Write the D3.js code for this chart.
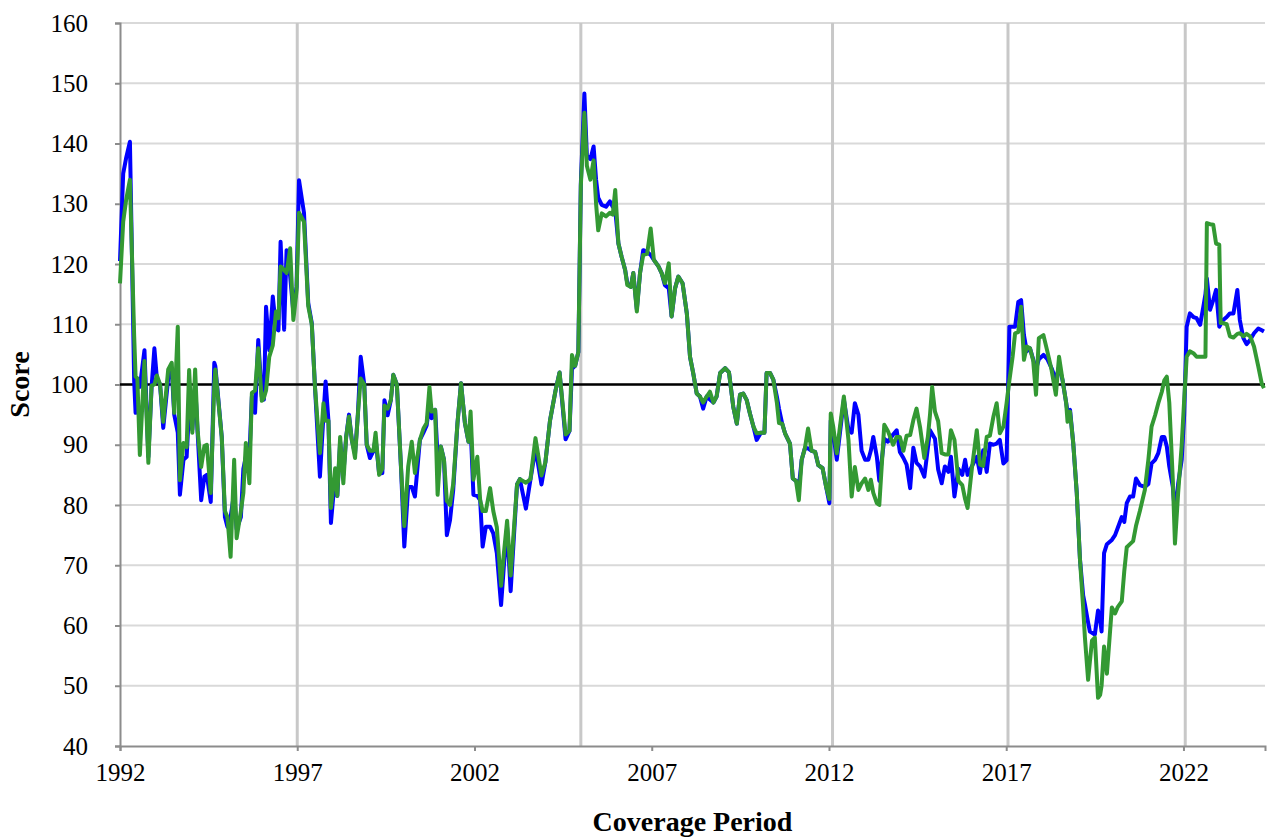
<!DOCTYPE html>
<html>
<head>
<meta charset="utf-8">
<script src="https://cdnjs.cloudflare.com/ajax/libs/d3/7.8.5/d3.min.js"></script>
<style>
  body { margin: 0; background: #fff; }
  svg text { font-family: "Liberation Serif", "Times New Roman", serif; fill: #000; }
</style>
</head>
<body>
<div id="chart"></div>
<script>
var width = 1272,
    height = 838;

var margin = {top: 23, right: 7, bottom: 92, left: 120};

// coverage period as decimal years
var years = [
  1992.00,1992.09,1992.17,1992.28,1992.40,1992.44,1992.49,1992.56,1992.69,1992.80,
  1992.89,1992.97,1993.04,1993.13,1993.22,1993.36,1993.46,1993.53,1993.63,1993.69,
  1993.79,1993.88,1993.95,1994.04,1994.12,1994.19,1994.29,1994.38,1994.45,1994.56,
  1994.66,1994.69,1994.87,1994.96,1995.03,1995.12,1995.22,1995.29,1995.41,1995.48,
  1995.55,1995.65,1995.72,1995.81,1995.90,1996.00,1996.06,1996.12,1996.21,1996.31,
  1996.40,1996.47,1996.53,1996.63,1996.70,1996.80,1996.89,1996.98,1997.05,1997.19,
  1997.31,1997.41,1997.50,1997.64,1997.74,1997.80,1997.88,1997.95,1998.07,1998.13,
  1998.21,1998.30,1998.38,1998.46,1998.54,1998.63,1998.71,1998.79,1998.89,1998.96,
  1999.05,1999.15,1999.21,1999.31,1999.40,1999.46,1999.55,1999.64,1999.71,1999.81,
  1999.93,2000.02,2000.13,2000.23,2000.32,2000.46,2000.56,2000.65,2000.73,2000.79,
  2000.89,2000.96,2001.05,2001.14,2001.22,2001.31,2001.40,2001.52,2001.62,2001.73,
  2001.83,2001.89,2001.97,2002.08,2002.16,2002.23,2002.32,2002.44,2002.53,2002.63,
  2002.75,2002.83,2002.92,2003.02,2003.20,2003.28,2003.45,2003.58,2003.72,2003.89,
  2004.00,2004.13,2004.29,2004.40,2004.57,2004.68,2004.75,2004.84,2004.93,2005.00,
  2005.10,2005.17,2005.27,2005.36,2005.43,2005.49,2005.59,2005.71,2005.82,2005.90,
  2005.97,2006.06,2006.15,2006.25,2006.31,2006.41,2006.48,2006.58,2006.67,2006.76,
  2006.87,2006.97,2007.06,2007.19,2007.28,2007.37,2007.48,2007.56,2007.66,2007.75,
  2007.87,2007.99,2008.08,2008.17,2008.27,2008.36,2008.45,2008.55,2008.64,2008.74,
  2008.83,2008.93,2009.07,2009.18,2009.30,2009.40,2009.49,2009.58,2009.68,2009.77,
  2009.87,2009.96,2010.08,2010.18,2010.24,2010.34,2010.43,2010.53,2010.59,2010.68,
  2010.76,2010.90,2010.98,2011.07,2011.15,2011.23,2011.32,2011.41,2011.51,2011.61,
  2011.70,2011.82,2011.92,2012.01,2012.05,2012.12,2012.22,2012.31,2012.42,2012.55,
  2012.64,2012.73,2012.83,2012.92,2013.02,2013.11,2013.18,2013.25,2013.35,2013.42,
  2013.56,2013.66,2013.81,2013.91,2014.00,2014.10,2014.19,2014.29,2014.38,2014.47,
  2014.57,2014.69,2014.79,2014.85,2014.91,2014.99,2015.08,2015.18,2015.27,2015.37,
  2015.44,2015.54,2015.65,2015.76,2015.84,2015.91,2016.03,2016.17,2016.26,2016.35,
  2016.45,2016.54,2016.64,2016.73,2016.82,2016.92,2017.01,2017.09,2017.18,2017.25,
  2017.34,2017.42,2017.50,2017.58,2017.67,2017.76,2017.84,2017.92,2018.05,2018.16,
  2018.28,2018.40,2018.49,2018.59,2018.69,2018.73,2018.80,2018.89,2018.99,2019.08,
  2019.17,2019.22,2019.31,2019.36,2019.42,2019.50,2019.59,2019.65,2019.69,2019.76,
  2019.84,2019.98,2020.07,2020.14,2020.26,2020.33,2020.40,2020.49,2020.58,2020.66,
  2020.77,2020.91,2021.01,2021.10,2021.20,2021.29,2021.39,2021.46,2021.53,2021.60,
  2021.70,2021.76,2021.85,2021.95,2022.02,2022.09,2022.18,2022.28,2022.37,2022.47,
  2022.56,2022.62,2022.66,2022.75,2022.84,2022.92,2023.01,2023.05,2023.12,2023.22,
  2023.31,2023.41,2023.52,2023.59,2023.69,2023.78,2023.88,2023.99,2024.11,2024.21,
  2024.27
];

var blueScore = [
  120.5,135,137.5,140.3,100.5,95.3,101,99.6,105.7,88,
  99.5,106,101,100,92.8,101,102.5,95,92,81.7,
  87.5,88,96,92.5,100,92,80.8,84.7,85,80.5,
  103.6,103,91.3,78,76.4,78,82,76,78,86,
  88,88,98,95.3,107.4,98,97.5,112.9,105.7,114.6,
  109.3,109,123.7,109.1,122.3,118,112,116.2,133.9,128.5,
  113.5,110.2,99.6,84.7,95,100.5,94,77,85,81.5,
  90.5,85,91.3,95,90.8,88.5,95,104.6,100,90,
  87.8,89,91,85.2,85.3,97.4,94.9,97.4,101.6,100,
  85.8,73.1,83,83,81.4,90.8,92,93.2,96.6,94.4,
  95.8,88,89.7,87.5,75,77.5,82.5,93.6,100.2,93.6,
  90.5,93,81.7,81.5,80.8,73.1,76.4,76.4,75.3,72,
  63.4,70,76.3,65.7,83.4,84.3,79.4,84.3,89.4,83.4,
  87.1,94,99.1,102,90.9,92.3,102.6,103.1,105.4,133.4,
  148.3,138,137.4,139.5,134,131,129.8,129.5,130.4,129.5,
  129,123.4,121.2,119,116.8,116.2,118.5,112.5,118.5,122.3,
  122,121.5,120.7,119.6,118.5,116.5,116,111.3,116,117.9,
  116.8,111.8,104.6,101.9,98.5,98,96,98,97.5,97,
  98,101.9,102.7,102,96.3,93.5,98.3,98.5,97.4,95.2,
  93,90.8,92,92,101.9,101.9,100.8,98,96,93.5,
  91.9,90.2,84.4,84,83,87.5,89.4,89.4,89,88.8,
  86.6,86.1,83,80.3,94,92,87.5,92,97.5,92.5,
  92,96.9,95,89,87.5,87.5,89,91.3,88,84,
  91,90.5,91.7,92.4,88.8,87.8,86.7,82.8,89.5,87,
  86.4,84.7,89.5,92.4,91.8,91,85.9,83.6,86.4,85.5,
  88,81.4,86,85,87.5,85,86.4,88,85.3,89.1,
  85.5,90.2,90,90.2,90.8,86.9,87.4,109.6,109.6,109.6,
  113.7,114,108.2,105.5,106,104.2,102.5,104.2,104.9,104.2,
  102.7,100.7,103,100.7,97,95.5,95.8,90.3,82,71,
  65,63.5,60.5,59,58.8,58.5,62.5,61,59,72,
  73.5,74.2,75,76.1,78,77.2,80.3,81.4,81.4,84.4,
  83.3,83,83.5,86.9,87.5,88.6,91.3,91.3,89.7,86.4,
  83,78.6,83.5,87.5,95,109.6,111.8,111.2,111,109.9,
  112.9,115,117.6,112.4,114,115.7,109.6,110,110.7,111.2,
  111.8,111.8,115.7,110.7,107.7,106.7,107.4,108.5,109.3,109,
  108.8
];

var greenScore = [
  116.8,127,130.5,134,108,101.3,101,88.3,103.9,87,
  99.8,100,101.5,100,93.8,102.5,103.6,95.3,109.6,84.1,
  90.3,89.6,102.4,92,102.5,92.3,86.3,89.8,90,82,
  100,102.5,91.3,79,78,71.4,87.5,74.5,79,82,
  90.3,83.6,98.6,99,106,97.3,97.8,99,104.6,106.5,
  112.1,111,119.6,119,118.5,122.6,110.7,115.5,128.5,127,
  113,110,99.6,88.6,96.9,94,94,79.5,86.1,81.5,
  91.3,83.6,91.3,94.7,90.8,87.8,95,101,100,90,
  89,89,92,85,86,96.5,96,97.4,101.6,100,
  86,76.5,86.4,90.5,85.3,90.8,92.7,93.6,99.6,95.5,
  95.8,81.7,89.7,87.5,80.7,80,83.5,93.6,100.2,93.6,
  90.5,95.5,84.2,88,80.8,79,79,82.8,79,76.3,
  66.6,72,77.4,68.3,83.4,84.3,83.7,84.3,91.1,84.9,
  87.1,94,99.1,102,91.7,92.3,104.9,103.1,105.4,133,
  145.1,136.3,134,137.2,130,125.6,128.4,127.9,128.5,128.2,
  132.3,123.4,121.2,119,116.5,116.2,118.5,112.1,118.5,121.5,
  121.7,125.9,120.7,119.6,118.5,116.8,120.1,111.3,116,117.9,
  116.8,111.8,104.6,101.9,98.5,98,97,98,98.8,97,
  98,101.9,102.7,102,96.3,93.5,98.3,98.5,97.4,95.2,
  93,91.9,92,92,101.9,101.9,100.8,97,93.6,93.5,
  91.9,90.2,84.4,84,80.8,87.5,89.4,92.7,89,88.8,
  86.6,86.1,83,81,95.2,93,88.6,93,98,90.8,
  81.4,86.3,82.5,83.6,84.4,82.5,84.2,82,80.3,80,
  93.3,92.3,90,91.3,91.3,89,91.5,91.6,94.1,96,
  92.9,87.8,91.3,95,99.6,95.5,93.9,88.6,88.4,88.4,
  92.4,90.8,84,83.3,81,79.5,86,92.4,86.7,86.5,
  91.3,91.5,94.7,96.9,91.9,93,96.9,100.7,104.6,108.5,
  108.7,112.9,104.1,106.3,106,104,98.3,107.7,108.2,105.5,
  102.4,98.3,104.6,100.7,97,93.8,95.5,90.3,82,71,
  63,58,51,54,57.5,58,48,48.5,50,56.5,
  52,63,62,63,64,69,73,73.5,74,76.5,
  79,82.5,87.5,93,94.9,96.9,98.8,100.7,101.3,97,
  84.1,73.6,82,89.9,97.4,104.6,105.5,105.2,104.6,104.6,
  104.6,104.6,126.8,126.6,126.5,123.4,123.2,110.2,110.2,110,
  108,107.8,108.4,108.5,108,108.4,108,106.3,103,100.1,
  99.4
];

var yTicks = [40, 50, 60, 70, 80, 90, 100, 110, 120, 130, 140, 150, 160];
var xTickYears = [1992, 1997, 2002, 2007, 2012, 2017, 2022];
var markerYears = [1997, 2005, 2012.1, 2017.05, 2022.05];
var baseline = 100;

var svg = d3.select("#chart")
    .append("svg")
    .attr("width", width)
    .attr("height", height);

var x = d3.scaleLinear()
    .domain([1992, 2024.3])
    .range([margin.left, width - margin.right]);

var y = d3.scaleLinear()
    .domain([40, 160])
    .range([height - margin.bottom, margin.top]);

// horizontal grid
svg.append("g")
    .selectAll("line")
    .data(yTicks.slice(1))
    .enter().append("line")
    .attr("x1", x(1992))
    .attr("x2", x(2024.3))
    .attr("y1", function (d) { return y(d); })
    .attr("y2", function (d) { return y(d); })
    .style("stroke", "#d9d9d9")
    .style("stroke-width", 2);

// vertical marker lines
svg.append("g")
    .selectAll("line")
    .data(markerYears)
    .enter().append("line")
    .attr("x1", function (d) { return x(d); })
    .attr("x2", function (d) { return x(d); })
    .attr("y1", y(160))
    .attr("y2", y(40))
    .style("stroke", "#c8c8c8")
    .style("stroke-width", 3);

// axes
var yAxis = svg.append("g")
    .attr("transform", "translate(" + margin.left + ",0)")
    .call(d3.axisLeft(y).tickValues(yTicks).tickSize(5).tickPadding(27));

var xAxis = svg.append("g")
    .attr("transform", "translate(0," + (height - margin.bottom) + ")")
    .call(d3.axisBottom(x).tickValues(xTickYears).tickFormat(d3.format("d")).tickSize(5).tickPadding(12));

[yAxis, xAxis].forEach(function (g) {
    g.select(".domain").style("stroke", "#8c8c8c").style("stroke-width", 2);
    g.selectAll(".tick line").style("stroke", "#8c8c8c").style("stroke-width", 2);
    g.selectAll(".tick text")
        .style("font-family", "'Liberation Serif', serif")
        .style("font-size", "25px")
        .style("fill", "#000");
});

// 100 reference line
svg.append("line")
    .attr("x1", x(1992))
    .attr("x2", x(2024.3))
    .attr("y1", y(baseline))
    .attr("y2", y(baseline))
    .style("stroke", "#000")
    .style("stroke-width", 2.5);

var line = d3.line()
    .x(function (d) { return x(d[0]); })
    .y(function (d) { return y(d[1]); });

var series = [
    {color: "#0000ff", values: blueScore},
    {color: "#339933", values: greenScore}
];

series.forEach(function (s) {
    svg.append("path")
        .datum(years.map(function (t, i) { return [t, s.values[i]]; }))
        .attr("d", line)
        .style("fill", "none")
        .style("stroke", s.color)
        .style("stroke-width", 4)
        .style("stroke-linejoin", "round");
});

// axis titles
svg.append("text")
    .attr("x", (margin.left + width - margin.right) / 2)
    .attr("y", 831)
    .attr("text-anchor", "middle")
    .style("font-size", "28px")
    .style("font-weight", "bold")
    .text("Coverage Period");

svg.append("text")
    .attr("transform", "translate(29," + y(100) + ") rotate(-90)")
    .attr("text-anchor", "middle")
    .style("font-size", "28px")
    .style("font-weight", "bold")
    .text("Score");
</script>
</body>
</html>
